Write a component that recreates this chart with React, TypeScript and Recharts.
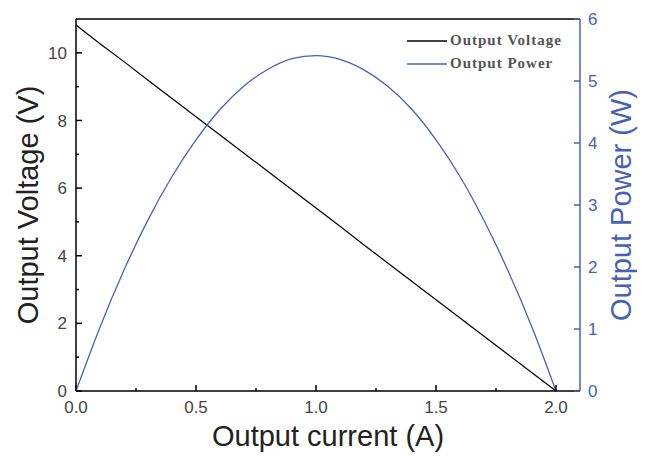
import React from 'react';
import {
  ComposedChart,
  Line,
  XAxis,
  YAxis,
  ReferenceLine,
  Label,
} from 'recharts';

// values
const currents = [0, 0.1, 0.2, 0.3, 0.4, 0.5, 0.6, 0.7, 0.8, 0.9, 1.0, 1.1, 1.2, 1.3, 1.4, 1.5, 1.6, 1.7, 1.8, 1.9, 2.0];
const voltages = [10.82, 10.27, 9.74, 9.19, 8.65, 8.11, 7.57, 7.03, 6.49, 5.95, 5.41, 4.87, 4.32, 3.78, 3.24, 2.7, 2.16, 1.62, 1.08, 0.54, 0];
const powers = [0, 1.03, 1.95, 2.76, 3.46, 4.05, 4.54, 4.92, 5.19, 5.36, 5.41, 5.35, 5.18, 4.91, 4.54, 4.05, 3.46, 2.75, 1.94, 1.03, 0];

const xTicks = [0, 0.25, 0.5, 0.75, 1, 1.25, 1.5, 1.75, 2];
const voltTicks = [0, 1, 2, 3, 4, 5, 6, 7, 8, 9, 10];
const powerTicks = [0, 1, 2, 3, 4, 5, 6];

const seriesNames = ['Output Voltage', 'Output Power'];

const data = currents.map((c, i) => ({ current: c, voltage: voltages[i], power: powers[i] }));

const BLUE = '#4562b8';
const SANS = '"Liberation Sans", Arial, sans-serif';

const XTick = (props: any) => {
  const { x, y, payload } = props;
  const v = payload.value;
  const major = Math.abs(v * 2 - Math.round(v * 2)) < 1e-6;
  return (
    <g>
      <line x1={x} x2={x} y1={y} y2={y - (major ? 6 : 3)} stroke="#000" strokeWidth={1.5} />
      {major && (
        <text x={x} y={y + 22} textAnchor="middle" fontSize={17} fontFamily={SANS} fill="#444">
          {v.toFixed(1)}
        </text>
      )}
    </g>
  );
};

const LeftTick = (props: any) => {
  const { x, y, payload } = props;
  const v = payload.value;
  const major = v % 2 === 0;
  return (
    <g>
      <line x1={x} x2={x + (major ? 6 : 3)} y1={y} y2={y} stroke="#000" strokeWidth={1.5} />
      {major && (
        <text x={x - 9} y={y} dy="0.36em" textAnchor="end" fontSize={17} fontFamily={SANS} fill="#444">
          {v}
        </text>
      )}
    </g>
  );
};

const RightTick = (props: any) => {
  const { x, y, payload } = props;
  return (
    <g>
      <line x1={x} x2={x - 6} y1={y} y2={y} stroke={BLUE} strokeWidth={1.5} />
      <text x={x + 8} y={y} dy="0.36em" textAnchor="start" fontSize={17} fontFamily={SANS} fill={BLUE}>
        {payload.value}
      </text>
    </g>
  );
};

const LegendBox = () => (
  <div
    style={{
      position: 'absolute',
      top: 29,
      left: 407,
      fontFamily: '"Liberation Serif", serif',
      fontSize: 15,
      fontWeight: 'bold',
      color: '#555',
      letterSpacing: 1,
    }}
  >
    {seriesNames.map((name, i) => (
      <div key={name} style={{ display: 'flex', alignItems: 'center', height: 23, whiteSpace: 'nowrap' }}>
        <svg width={40} height={4} style={{ marginRight: 3 }}>
          <line x1={0} x2={40} y1={2} y2={2} stroke={i === 0 ? '#000' : BLUE} strokeWidth={1.5} />
        </svg>
        <span>{name}</span>
      </div>
    ))}
  </div>
);

export default function App() {
  return (
    <div style={{ position: 'absolute', left: 0, top: 0, width: 653, height: 456, background: '#fff' }}>
      <ComposedChart width={653} height={456} data={data} margin={{ top: 19, right: 0, bottom: 0, left: 0 }}>
        <XAxis
          dataKey="current"
          type="number"
          domain={[0, 2.1]}
          ticks={xTicks}
          interval={0}
          height={65}
          tickSize={0}
          tickMargin={0}
          tickLine={false}
          tick={<XTick />}
          axisLine={{ stroke: '#000', strokeWidth: 1.5 }}
        >
          <Label
            content={({ viewBox }: any) => (
              <text x={viewBox.x + viewBox.width / 2} y={446} textAnchor="middle" fontSize={29} fontFamily={SANS} fill="#222">
                Output current (A)
              </text>
            )}
          />
        </XAxis>
        <YAxis
          yAxisId="v"
          domain={[0, 11]}
          ticks={voltTicks}
          interval={0}
          width={76}
          tickSize={0}
          tickMargin={0}
          tickLine={false}
          tick={<LeftTick />}
          axisLine={{ stroke: '#000', strokeWidth: 1.5 }}
        >
          <Label
            content={({ viewBox }: any) => {
              const cy = viewBox.y + viewBox.height / 2;
              return (
                <text x={28} y={cy} transform={`rotate(-90, 28, ${cy})`} textAnchor="middle" dominantBaseline="central" fontSize={29} fontFamily={SANS} fill="#222">
                  Output Voltage (V)
                </text>
              );
            }}
          />
        </YAxis>
        <YAxis
          yAxisId="p"
          orientation="right"
          domain={[0, 6]}
          ticks={powerTicks}
          interval={0}
          width={73}
          tickSize={0}
          tickMargin={0}
          tickLine={false}
          tick={<RightTick />}
          axisLine={{ stroke: BLUE, strokeWidth: 1.5 }}
        >
          <Label
            content={({ viewBox }: any) => {
              const cy = viewBox.y + viewBox.height / 2;
              return (
                <text x={621} y={cy} transform={`rotate(-90, 621, ${cy})`} textAnchor="middle" dominantBaseline="central" fontSize={29} fontFamily={SANS} fill={BLUE}>
                  Output Power (W)
                </text>
              );
            }}
          />
        </YAxis>
        <ReferenceLine yAxisId="v" y={11} stroke="#000" strokeWidth={1.5} />
        <Line
          yAxisId="v"
          dataKey="voltage"
          name={seriesNames[0]}
          type="linear"
          stroke="#000"
          strokeWidth={1.2}
          dot={false}
          isAnimationActive={false}
        />
        <Line
          yAxisId="p"
          dataKey="power"
          name={seriesNames[1]}
          type="monotone"
          stroke={BLUE}
          strokeWidth={1.3}
          dot={false}
          isAnimationActive={false}
        />
      </ComposedChart>
      <LegendBox />
    </div>
  );
}
